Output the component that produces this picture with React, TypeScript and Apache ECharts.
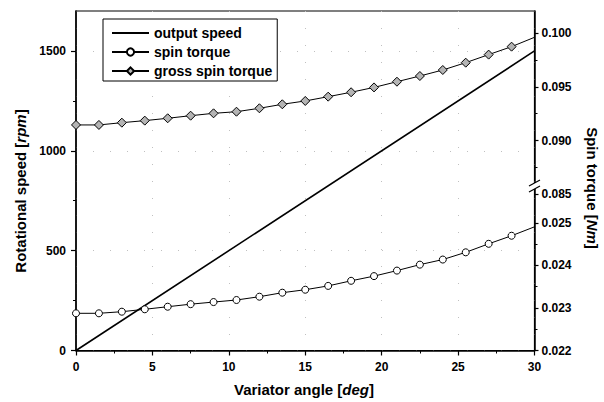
import React, { useEffect, useRef } from "react";
import * as echarts from "echarts";

// ---- data ----
const angles = [0, 1.5, 3, 4.5, 6, 7.5, 9, 10.5, 12, 13.5, 15, 16.5, 18, 19.5, 21, 22.5, 24, 25.5, 27, 28.5, 30];
const spinTorque = [
  0.022875, 0.022875, 0.022913, 0.02297, 0.02303, 0.02309, 0.02314, 0.023188, 0.023266, 0.02336, 0.02343,
  0.02352, 0.02364, 0.02375, 0.02388, 0.02402, 0.02414, 0.02431, 0.02451, 0.0247, 0.02491,
];
const grossSpinTorque = [
  0.09145, 0.09145, 0.09166, 0.09185, 0.09207, 0.09231, 0.09253, 0.09268, 0.093, 0.09337, 0.09368,
  0.09408, 0.09449, 0.09494, 0.09547, 0.096, 0.09656, 0.09724, 0.09799, 0.09873, 0.0996,
];
const speedAngles = [0, 30];
const outputSpeed = [0, 1500];

const xTicks = [0, 5, 10, 15, 20, 25, 30];
const xMinorTicks = [2.5, 7.5, 12.5, 17.5, 22.5, 27.5];
const leftTicks = [0, 500, 1000, 1500];
const leftMinorTicks = [250, 750, 1250];
const lowerTicks = [0.022, 0.023, 0.024, 0.025];
const lowerMinorTicks = [0.0225, 0.0235, 0.0245];
const upperTicks = [0.085, 0.09, 0.095, 0.1];
const upperMinorTicks = [0.0875, 0.0925, 0.0975];

const FONT = "'Liberation Sans', Arial, sans-serif";

export default function App() {
  const ref = useRef<HTMLDivElement>(null);

  useEffect(() => {
    if (!ref.current) return;
    const chart = echarts.init(ref.current, undefined, { renderer: "svg" });

    const labelStyle = { color: "#000", fontSize: 12, fontWeight: "bold", fontFamily: FONT };
    const lowerMin = 0.022, lowerMax = 0.029988;
    const upperMin = 0.070474, upperMax = 0.102046;

    const minorAxis = (extra: any) => ({
      type: "value",
      axisLine: { show: false },
      axisLabel: { show: false },
      splitLine: { show: false },
      ...extra,
    });

    const lastNoSymbol = (vals: number[]) =>
      vals.map((v, i) => (i === vals.length - 1 ? { value: [angles[i], v], symbol: "none" } : [angles[i], v]));

    const titleStyle = (text: string) => ({
      text,
      fill: "#000",
      fontSize: 15,
      fontWeight: "bold",
      fontFamily: FONT,
      align: "center",
      verticalAlign: "middle",
      rich: { i: { fontSize: 15, fontWeight: "bold", fontStyle: "italic", fontFamily: FONT, fill: "#000" } },
    });

    chart.setOption({
      animation: false,
      backgroundColor: "#fff",
      grid: { left: 76, right: 69.5, top: 11, bottom: 51.5, show: true, borderColor: "#000", borderWidth: 1.2, backgroundColor: "transparent" },
      legend: {
        orient: "vertical",
        left: 103,
        top: 19,
        padding: [7, 5, 3, 8],
        borderColor: "#000",
        borderWidth: 1,
        backgroundColor: "#fff",
        itemWidth: 37,
        itemHeight: 9,
        itemGap: 5,
        textStyle: { color: "#000", fontSize: 14, fontWeight: "bold", fontFamily: FONT },
        data: ["output speed", "spin torque", "gross spin torque"],
      },
      xAxis: [
        {
          type: "value",
          min: 0,
          max: 30,
          interval: 5,
          axisLine: { show: true, lineStyle: { color: "#000", width: 1.5 } },
          axisTick: { show: true, length: 5, lineStyle: { color: "#000", width: 1.2 }, customValues: xTicks },
          axisLabel: { ...labelStyle, margin: 10, customValues: xTicks },
          splitLine: { show: true, lineStyle: { color: "#c0c0c0", type: [1, 16], width: 1 } },
        },
        minorAxis({ min: 0, max: 30, position: "bottom", axisTick: { show: true, length: 3, lineStyle: { color: "#000" }, customValues: xMinorTicks } }),
      ],
      yAxis: [
        {
          type: "value",
          position: "left",
          min: 0,
          max: 1700,
          interval: 500,
          axisLine: { show: true, lineStyle: { color: "#000", width: 1.5 } },
          axisTick: { show: true, length: 5, lineStyle: { color: "#000", width: 1.2 }, customValues: leftTicks },
          axisLabel: { ...labelStyle, margin: 10, customValues: leftTicks, formatter: (v: number) => String(v) },
          splitLine: { show: true, lineStyle: { color: "#c0c0c0", type: [1, 16], width: 1 } },
        },
        minorAxis({ min: 0, max: 1700, position: "left", axisTick: { show: true, length: 3, lineStyle: { color: "#000" }, customValues: leftMinorTicks } }),
        {
          type: "value",
          position: "right",
          min: lowerMin,
          max: lowerMax,
          axisLine: { show: true, lineStyle: { color: "#000", width: 1.5 } },
          axisTick: { show: true, length: 4, lineStyle: { color: "#000", width: 1.2 }, customValues: lowerTicks },
          axisLabel: { ...labelStyle, margin: 7, customValues: lowerTicks, formatter: (v: number) => v.toFixed(3) },
          splitLine: { show: false },
        },
        {
          type: "value",
          position: "right",
          min: upperMin,
          max: upperMax,
          axisLine: { show: false },
          axisTick: { show: true, length: 4, lineStyle: { color: "#000", width: 1.2 }, customValues: upperTicks },
          axisLabel: { ...labelStyle, margin: 7, customValues: upperTicks, formatter: (v: number) => v.toFixed(3) },
          splitLine: { show: false },
        },
        minorAxis({ min: lowerMin, max: lowerMax, position: "right", axisTick: { show: true, length: 3, lineStyle: { color: "#000" }, customValues: lowerMinorTicks } }),
        minorAxis({ min: upperMin, max: upperMax, position: "right", axisTick: { show: true, length: 3, lineStyle: { color: "#000" }, customValues: upperMinorTicks } }),
      ],
      series: [
        {
          name: "output speed",
          type: "line",
          xAxisIndex: 0,
          yAxisIndex: 0,
          showSymbol: false,
          symbol: "none",
          lineStyle: { color: "#000", width: 1.6 },
          itemStyle: { color: "rgba(0,0,0,0)", borderWidth: 0 },
          data: speedAngles.map((a, i) => [a, outputSpeed[i]]),
        },
        {
          name: "spin torque",
          type: "line",
          xAxisIndex: 0,
          yAxisIndex: 2,
          symbol: "circle",
          symbolSize: 7,
          lineStyle: { color: "#000", width: 1 },
          itemStyle: { color: "#fff", borderColor: "#000", borderWidth: 1 },
          data: lastNoSymbol(spinTorque),
        },
        {
          name: "gross spin torque",
          type: "line",
          xAxisIndex: 0,
          yAxisIndex: 3,
          symbol: "diamond",
          symbolSize: 9,
          lineStyle: { color: "#000", width: 1 },
          itemStyle: { color: "#b4b4b4", borderColor: "#000", borderWidth: 1 },
          data: lastNoSymbol(grossSpinTorque),
        },
      ],
      graphic: [
        { type: "text", x: 20, y: 191, rotation: Math.PI / 2, style: titleStyle("Rotational speed [{i|rpm}]") },
        { type: "text", x: 304, y: 389, style: titleStyle("Variator angle [{i|deg}]") },
        { type: "text", x: 592, y: 188, rotation: -Math.PI / 2, style: titleStyle("Spin torque [{i|Nm}]") },
        { type: "rect", z: 100, shape: { x: 529, y: 183, width: 11, height: 6 }, style: { fill: "#fff" } },
        { type: "line", z: 101, shape: { x1: 529, y1: 186, x2: 540, y2: 180 }, style: { stroke: "#000", lineWidth: 1.2 } },
        { type: "line", z: 101, shape: { x1: 529, y1: 192, x2: 540, y2: 186 }, style: { stroke: "#000", lineWidth: 1.2 } },
      ],
    });

    return () => chart.dispose();
  }, []);

  return <div ref={ref} style={{ position: "absolute", left: 0, top: 0, width: 604, height: 402 }} />;
}
